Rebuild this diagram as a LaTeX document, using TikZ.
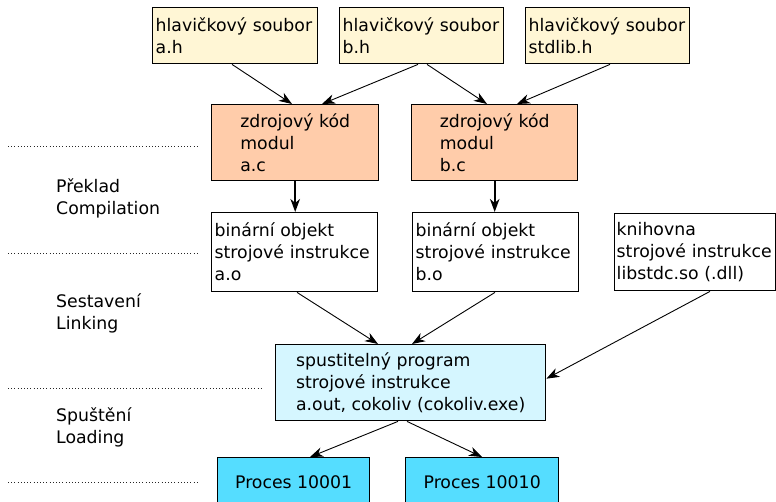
\documentclass[tikz,border=0pt]{standalone}
\usepackage{fontspec}
\setmainfont{DejaVu Sans}
\usetikzlibrary{arrows.meta,calc}

\definecolor{hdrfill}{HTML}{FFF6D5}
\definecolor{srcfill}{HTML}{FFCCAA}
\definecolor{exefill}{HTML}{D5F6FF}
\definecolor{procfill}{HTML}{55DDFF}

\tikzset{
  txt/.style={font=\fontsize{17.3}{22}\selectfont},
  box/.style={txt, draw=black, line width=1.4pt, inner sep=3pt, anchor=north west, align=left},
  hdrbox/.style={box, fill=hdrfill, minimum height=56pt},
  srcbox/.style={box, fill=srcfill, minimum height=76pt},
  objbox/.style={box, fill=white, minimum height=79pt},
  exebox/.style={box, fill=exefill, minimum height=76pt},
  procbox/.style={box, fill=procfill, minimum height=50pt, align=center},
  phase/.style={txt, inner sep=0pt, anchor=west, align=left},
  sep/.style={line width=0.9pt, dash pattern=on 1pt off 2.2pt, black!85},
  tip/.style={-{Stealth[length=13pt,width=9.5pt,inset=4pt]}},
  conn/.style={draw, line width=0.9pt, tip},
  thickconn/.style={draw, line width=2pt, tip},
}

\begin{document}
\begin{tikzpicture}[x=1pt,y=-1pt]
\clip (0,0) rectangle (776,502);

% phase separators
\draw[sep] (8,146) -- (199,146);
\draw[sep] (8,253) -- (199,253);
\draw[sep] (8,388) -- (262,388);
\draw[sep] (8,482) -- (199,482);

% phase names
\node[phase] (comp) at (56,198.5) {Překlad\\Compilation};
\node[phase] (link) at (56,313.5) {Sestavení\\Linking};
\node[phase] (load) at (56,427.5) {Spuštění\\Loading};

% header files
\node[hdrbox, text width=159pt] (ah) at (152,7) {hlavičkový soubor\\a.h};
\node[hdrbox, text width=158pt] (bh) at (339,7) {hlavičkový soubor\\b.h};
\node[hdrbox, text width=158pt] (sh) at (525,7) {hlavičkový soubor\\stdlib.h};

% source modules
\node[srcbox, minimum width=167pt] (ac) at (211,104) {zdrojový kód\\modul\\a.c};
\node[srcbox, minimum width=166pt] (bc) at (411,104) {zdrojový kód\\modul\\b.c};

% object files and library
\node[objbox, text width=160pt] (ao) at (211,212) {binární objekt\\strojové instrukce\\a.o};
\node[objbox, text width=160pt] (bo) at (412,212) {binární objekt\\strojové instrukce\\b.o};
\node[objbox, inner xsep=2pt, text width=157pt, minimum height=77pt] (lib) at (614,213) {knihovna\\strojové instrukce\\libstdc.so (.dll)};

% executable
\node[exebox, minimum width=270pt] (exe) at (275,344) {spustitelný program\\strojové instrukce\\a.out, cokoliv (cokoliv.exe)};

% processes
\node[procbox, minimum width=152pt] (p1) at (217,457) {Proces 10001};
\node[procbox, minimum width=153pt] (p2) at (405,457) {Proces 10010};

% includes
\draw[conn] ([xshift=80pt]ah.south west) -- ([xshift=81pt]ac.north west);
\draw[conn] ([xshift=79pt]bh.south west) -- ([xshift=111pt]ac.north west);
\draw[conn] ([xshift=88pt]bh.south west) -- ([xshift=76pt]bc.north west);
\draw[conn] ([xshift=85pt]sh.south west) -- ([xshift=106pt]bc.north west);

% compilation
\draw[thickconn] (ac.south) -- (ac.south |- ao.north);
\draw[thickconn] (bc.south) -- (bc.south |- bo.north);

% linking
\draw[conn] ([xshift=86pt]ao.south west) -- ([xshift=103pt]exe.north west);
\draw[conn] ([xshift=83pt]bo.south west) -- ([xshift=137pt]exe.north west);
\draw[conn] ([xshift=96pt]lib.south west) -- ([yshift=4pt]exe.east);

% loading
\draw[conn] ([xshift=123pt]exe.south west) -- ([xshift=93pt]p1.north west);
\draw[conn] ([xshift=132pt]exe.south west) -- ([xshift=77pt]p2.north west);
\end{tikzpicture}
\end{document}
